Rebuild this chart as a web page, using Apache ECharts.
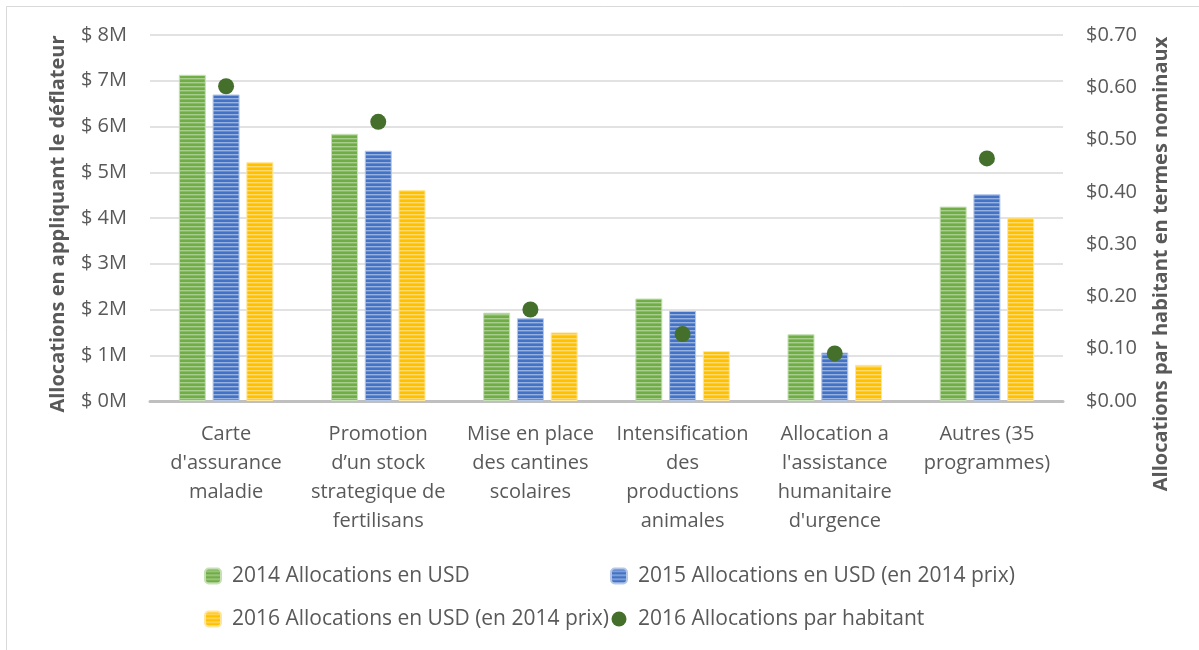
<!DOCTYPE html>
<html>
<head>
<meta charset="utf-8">
<title>Allocations</title>
<script src="https://cdn.jsdelivr.net/npm/echarts@6/dist/echarts.min.js"></script>
<style>
html, body {margin:0; padding:0; background:#fff;}
#chart {width:1199px; height:650px;}
</style>
</head>
<body>
<div id="chart"></div>
<script>
// categories
var categories = [
	"Carte\nd'assurance\nmaladie",
	"Promotion\nd\u2019un stock\nstrategique de\nfertilisans",
	"Mise en place\ndes cantines\nscolaires",
	"Intensification\ndes\nproductions\nanimales",
	"Allocation a\nl'assistance\nhumanitaire\nd'urgence",
	"Autres (35\nprogrammes)"
];
// allocations en millions USD
var alloc2014 = [7.13, 5.84, 1.93, 2.24, 1.46, 4.25];
var alloc2015 = [6.70, 5.47, 1.81, 1.97, 1.06, 4.52];
var alloc2016 = [5.22, 4.61, 1.50, 1.09, 0.79, 4.02];
// allocations par habitant (USD nominaux)
var perCapita2016 = [0.602, 0.534, 0.175, 0.128, 0.091, 0.464];

var seriesNames = [
	'2014 Allocations en USD',
	'2015 Allocations en USD (en 2014 prix)',
	'2016 Allocations en USD (en 2014 prix)',
	'2016 Allocations par habitant'
];

var textColor = '#595959';
var fontFamily = "'Open Sans', sans-serif";

// motif a rayures horizontales
function stripes(base, light){
	var c = document.createElement('canvas');
	c.width = 4; c.height = 4;
	var ctx = c.getContext('2d');
	ctx.fillStyle = base;
	ctx.fillRect(0, 0, 4, 4);
	ctx.fillStyle = light;
	ctx.globalAlpha = 0.8;
	ctx.fillRect(0, 2, 4, 1);
	ctx.globalAlpha = 0.35;
	ctx.fillRect(0, 3, 4, 1);
	return {image: c, repeat: 'repeat'};
}

var myChart = echarts.init(document.getElementById('chart'));

var legendText = {fontSize: 21, color: textColor, lineHeight: 24, padding: [0, 0, 0, 6], fontFamily: fontFamily};

var option = {
	backgroundColor: '#fff',
	animation: false,
	textStyle: {fontFamily: fontFamily},
	grid: {
		left: 150,
		right: 136,
		top: 35,
		bottom: 249
	},
	legend: [
		{
			data: [seriesNames[0], seriesNames[2]],
			orient: 'vertical',
			left: 204,
			top: 564,
			padding: 0,
			itemGap: 19,
			itemWidth: 16,
			itemHeight: 15,
			textStyle: legendText
		},
		{
			data: [seriesNames[1], seriesNames[3]],
			orient: 'vertical',
			left: 610,
			top: 564,
			padding: 0,
			itemGap: 19,
			itemWidth: 16,
			itemHeight: 15,
			textStyle: legendText
		}
	],
	xAxis: [
		{
			type: 'category',
			data: categories,
			axisTick: {show: false},
			axisLine: {lineStyle: {color: '#BFBFBF', width: 3}},
			axisLabel: {
				color: textColor,
				fontSize: 20,
				lineHeight: 29,
				margin: 19,
				interval: 0,
				fontFamily: fontFamily
			}
		}
	],
	yAxis: [
		{
			type: 'value',
			min: 0,
			max: 8,
			interval: 1,
			axisLine: {show: false},
			axisTick: {show: false},
			splitLine: {lineStyle: {color: '#D9D9D9', width: 1.5}},
			axisLabel: {
				color: textColor,
				fontSize: 20,
				margin: 23,
				fontFamily: fontFamily,
				formatter: function(v){ return '$ ' + v + 'M'; }
			}
		},
		{
			type: 'value',
			min: 0,
			max: 0.7,
			interval: 0.1,
			position: 'right',
			axisLine: {show: false},
			axisTick: {show: false},
			splitLine: {show: false},
			axisLabel: {
				color: textColor,
				fontSize: 20,
				margin: 23,
				fontFamily: fontFamily,
				formatter: function(v){ return '$' + v.toFixed(2); }
			}
		}
	],
	series: [
		{
			name: seriesNames[0],
			type: 'bar',
			barWidth: 27,
			barGap: '25%',
			data: alloc2014,
			itemStyle: {color: stripes('#70AD47', '#B5D69F'), borderColor: '#C5E0B4', borderWidth: 1}
		},
		{
			name: seriesNames[1],
			type: 'bar',
			barWidth: 27,
			barGap: '25%',
			data: alloc2015,
			itemStyle: {color: stripes('#4472C4', '#A9C0E8'), borderColor: '#B4C7E7', borderWidth: 1}
		},
		{
			name: seriesNames[2],
			type: 'bar',
			barWidth: 27,
			barGap: '25%',
			data: alloc2016,
			itemStyle: {color: stripes('#FFC000', '#FFE08A'), borderColor: '#FFE699', borderWidth: 1}
		},
		{
			name: seriesNames[3],
			type: 'scatter',
			yAxisIndex: 1,
			symbol: 'circle',
			symbolSize: 16,
			data: perCapita2016,
			itemStyle: {color: '#44702B', opacity: 1},
			z: 5
		}
	],
	graphic: [
		{
			type: 'rect',
			silent: true,
			shape: {x: 6.5, y: 6.5, width: 1300, height: 1000},
			style: {fill: 'none', stroke: '#D9D9D9', lineWidth: 1}
		},
		{
			type: 'text',
			x: 58,
			y: 224,
			rotation: Math.PI / 2,
			style: {
				text: 'Allocations en appliquant le d\u00e9flateur',
				fontSize: 20,
				fontWeight: 'bold',
				fontFamily: fontFamily,
				fill: textColor,
				align: 'center',
				verticalAlign: 'middle'
			}
		},
		{
			type: 'text',
			x: 1161,
			y: 264,
			rotation: Math.PI / 2,
			style: {
				text: 'Allocations par habitant en termes nominaux',
				fontSize: 20,
				fontWeight: 'bold',
				fontFamily: fontFamily,
				fill: textColor,
				align: 'center',
				verticalAlign: 'middle'
			}
		}
	]
};
myChart.setOption(option);
</script>
</body>
</html>
